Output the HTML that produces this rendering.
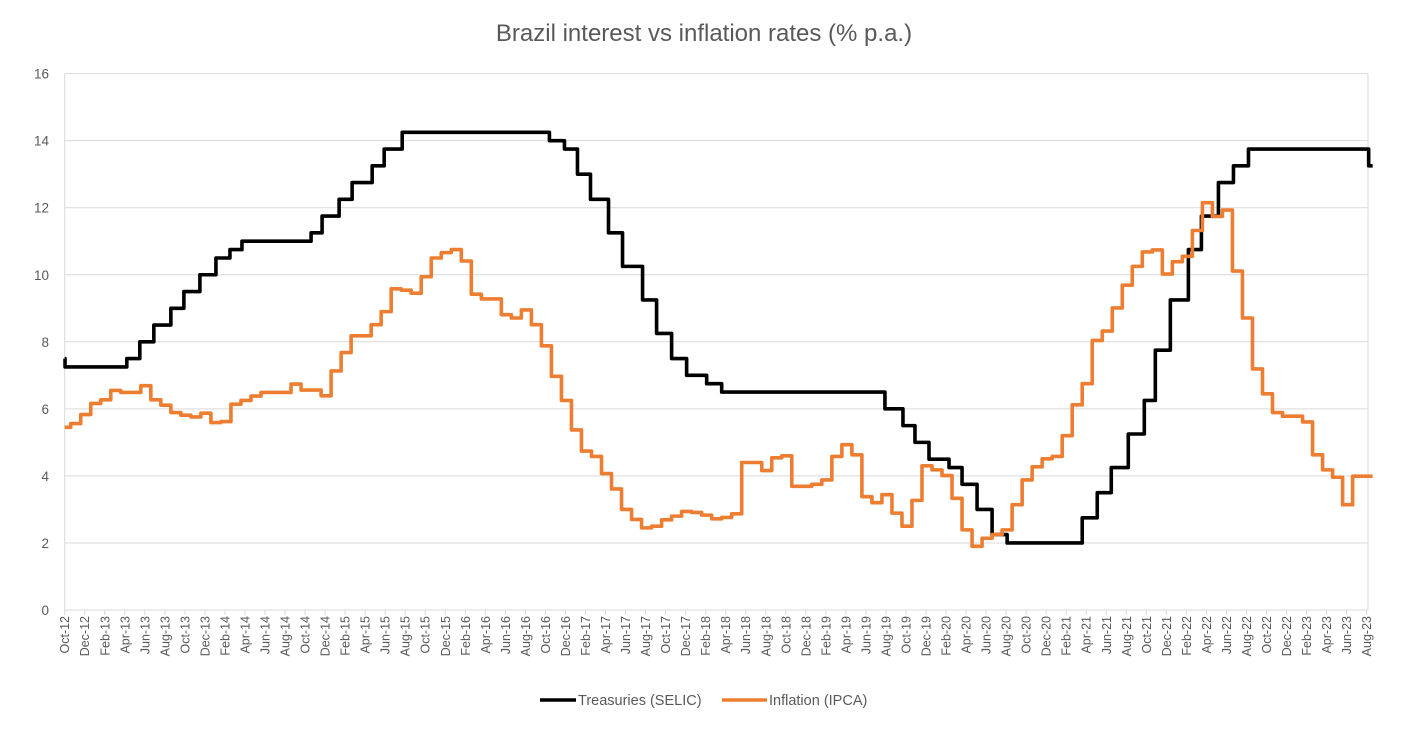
<!DOCTYPE html>
<html><head><meta charset="utf-8"><style>
body{margin:0;background:#fff;}
svg{display:block;font-family:"Liberation Sans",Calibri,sans-serif;}
</style></head><body>
<svg id="chart" width="1420" height="729" viewBox="0 0 1420 729">
<text x="704" y="41" text-anchor="middle" font-size="24" fill="#595959">Brazil interest vs inflation rates (% p.a.)</text>
<g id="grid"></g><g id="axes"></g><g id="series"></g>
<g>
<line x1="540" y1="700" x2="576" y2="700" stroke="#000" stroke-width="3.5"/>
<text x="578" y="705" font-size="14.5" fill="#595959">Treasuries (SELIC)</text>
<line x1="722" y1="700" x2="767" y2="700" stroke="#ED7D31" stroke-width="3.5"/>
<text x="769" y="705" font-size="14.5" fill="#595959">Inflation (IPCA)</text>
</g>
</svg>
<script>
const yTicks=[0,2,4,6,8,10,12,14,16];
const monthNames=["Jan","Feb","Mar","Apr","May","Jun","Jul","Aug","Sep","Oct","Nov","Dec"];
const selicDates=["2012-10-01","2012-10-02","2013-04-07","2013-05-16","2013-06-28","2013-08-19","2013-09-28","2013-11-16","2014-01-04","2014-02-16","2014-03-22","2014-10-19","2014-11-22","2015-01-13","2015-02-22","2015-04-22","2015-05-28","2015-07-22","2016-10-13","2016-11-28","2017-01-07","2017-02-16","2017-04-10","2017-05-22","2017-07-22","2017-09-04","2017-10-19","2017-12-04","2018-02-04","2018-03-19","2019-07-28","2019-09-22","2019-10-28","2019-12-10","2020-02-10","2020-03-19","2020-05-04","2020-06-19","2020-08-04","2021-03-19","2021-05-04","2021-06-16","2021-08-07","2021-09-25","2021-10-28","2021-12-13","2022-02-07","2022-03-16","2022-05-07","2022-06-22","2022-08-07","2023-08-07"];
const selicRates=[7.5,7.25,7.5,8.0,8.5,9.0,9.5,10.0,10.5,10.75,11.0,11.25,11.75,12.25,12.75,13.25,13.75,14.25,14.0,13.75,13.0,12.25,11.25,10.25,9.25,8.25,7.5,7.0,6.75,6.5,6.0,5.5,5.0,4.5,4.25,3.75,3.0,2.25,2.0,2.75,3.5,4.25,5.25,6.25,7.75,9.25,10.75,11.75,12.75,13.25,13.75,13.25];
const ipcaStart="2012-10";
const ipcaValues=[5.45,5.56,5.83,6.16,6.27,6.55,6.49,6.49,6.69,6.27,6.11,5.89,5.81,5.76,5.87,5.59,5.62,6.14,6.25,6.38,6.49,6.49,6.49,6.74,6.56,6.56,6.39,7.13,7.68,8.18,8.18,8.51,8.9,9.58,9.54,9.45,9.94,10.5,10.66,10.75,10.41,9.42,9.28,9.28,8.81,8.71,8.95,8.51,7.88,6.97,6.25,5.37,4.74,4.58,4.07,3.61,3.0,2.70,2.45,2.50,2.69,2.80,2.94,2.91,2.83,2.72,2.76,2.87,4.40,4.40,4.16,4.54,4.60,3.69,3.69,3.75,3.88,4.58,4.93,4.63,3.38,3.20,3.44,2.89,2.50,3.27,4.30,4.18,4.01,3.33,2.39,1.90,2.14,2.25,2.39,3.14,3.88,4.27,4.51,4.58,5.20,6.12,6.75,8.04,8.32,9.01,9.69,10.25,10.68,10.74,10.02,10.39,10.55,11.32,12.15,11.74,11.93,10.11,8.71,7.19,6.45,5.89,5.78,5.78,5.61,4.63,4.18,3.96,3.14,3.99,3.99];
const axisStart="2012-10";const axisEndMonths=130.6;

const NS="http://www.w3.org/2000/svg";
const L=64.7,R=1368,T=73.6,B=610;
const pxPerMonth=10.015;
function xm(m){return L+m*pxPerMonth;}
function y(v){return B-(v/16)*(B-T);}
function dateToM(s){const p=s.split("-").map(Number);const d=p[2]||1;return (p[0]-2012)*12+(p[1]-10)+(d-1)/30;}
function mk(tag,attrs,parent){const e=document.createElementNS(NS,tag);for(const k in attrs)e.setAttribute(k,attrs[k]);parent.appendChild(e);return e;}
const grid=document.getElementById("grid"),axes=document.getElementById("axes"),series=document.getElementById("series");
yTicks.forEach(v=>{
  if(v>0){const g=mk("line",{x1:L,x2:R,y1:y(v),y2:y(v),stroke:"#d9d9d9","stroke-width":1},grid);
  
  }
  const t=mk("text",{x:49,y:y(v)+5,"text-anchor":"end","font-size":13.5,fill:"#595959"},axes);
  t.textContent=v;
  
  
});
const ax=mk("line",{x1:L,x2:R,y1:B,y2:B,stroke:"#d9d9d9","stroke-width":1},axes);


const ly=mk("line",{x1:L,x2:L,y1:T,y2:B,stroke:"#d9d9d9","stroke-width":1},axes);


const ry=mk("line",{x1:R,x2:R,y1:T,y2:B,stroke:"#d9d9d9","stroke-width":1},axes);


for(let m=0;m<=130;m+=2){
  const x=xm(m);
  const tk=mk("line",{x1:x,x2:x,y1:B,y2:B+5,stroke:"#d9d9d9","stroke-width":1},axes);
  
  
  const mi=(9+m)%12,yr=12+Math.floor((9+m)/12);
  const t=mk("text",{x:0,y:0,"text-anchor":"end","font-size":12.5,fill:"#595959",transform:"translate("+(x+4.5)+","+(B+6)+") rotate(-90)"},axes);
  t.textContent=monthNames[mi]+"-"+yr;
  
  
}
let d="";
selicDates.forEach((s,i)=>{const m=dateToM(s);const v=selicRates[i];
  if(i===0)d+="M"+xm(m)+","+y(v);else d+=" H"+xm(m)+" V"+y(v);});
d+=" H"+xm(axisEndMonths);
const sp=mk("path",{d:d,fill:"none",stroke:"#000","stroke-width":3.6,"stroke-linejoin":"round"},series);


let d2="";
ipcaValues.forEach((v,i)=>{const start=Math.max(0,i-0.4);
  if(i===0)d2+="M"+xm(0)+","+y(v);else d2+=" H"+xm(start)+" V"+y(v);});
d2+=" H"+xm(axisEndMonths);
const ip=mk("path",{d:d2,fill:"none",stroke:"#ED7D31","stroke-width":3.6,"stroke-linejoin":"round"},series);


</script>
</body></html>
